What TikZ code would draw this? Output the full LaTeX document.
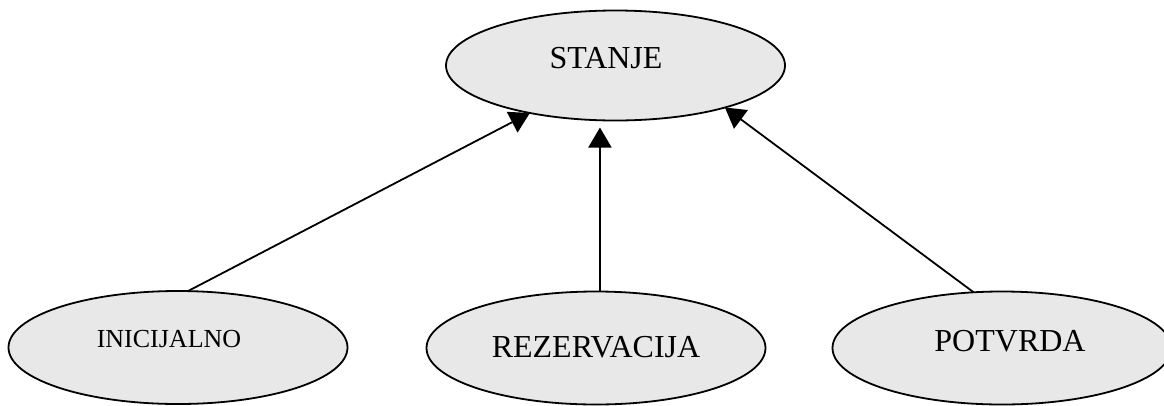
\documentclass[tikz,border=0pt]{standalone}
\usepackage{fontspec}
\setmainfont{Liberation Serif}
\usetikzlibrary{shapes.geometric,arrows.meta}
\pgfdeclarelayer{bg}
\pgfsetlayers{bg,main}
\definecolor{statefill}{RGB}{232,232,232}
\tikzset{
  state/.style={ellipse, draw=black, fill=statefill, line width=1.8pt,
    minimum width=339pt, minimum height=110pt, inner sep=0pt, outer sep=0pt},
  statetext/.style={anchor=base, inner sep=0pt, font=\fontsize{32}{36}\selectfont},
  link/.style={line width=1.8pt, -{Triangle[length=20pt,width=23pt]}}
}
\begin{document}
\begin{tikzpicture}[x=1pt,y=-1pt]
  \useasboundingbox (0,0) rectangle (1164,405);
  % states
  \node[state] (stanje) at (615.5,65.5) {};
  \node[state, minimum height=113pt] (ini) at (178,347.5) {};
  \node[state, minimum height=113pt] (rez) at (596,348) {};
  \node[state, minimum height=113pt] (pot) at (1002,348) {};
  % labels
  \node[statetext] (stanjeT) at (606,68) {STANJE};
  \node[statetext, font=\fontsize{26}{30}\selectfont] (iniT) at (169,347) {INICIJALNO};
  \node[statetext] (rezT) at (596,357.3) {REZERVACIJA};
  \node[statetext] (potT) at (1010,351) {POTVRDA};
  % transitions, drawn beneath the states
  \begin{pgfonlayer}{bg}
    \draw[link] (ini.80) -- (stanje.209);
    \draw[link, shorten >=7pt] (rez.86) -- (rez.86 |- stanje.south);
    \draw[link] (pot.117) -- (stanje.-21);
  \end{pgfonlayer}
\end{tikzpicture}
\end{document}
